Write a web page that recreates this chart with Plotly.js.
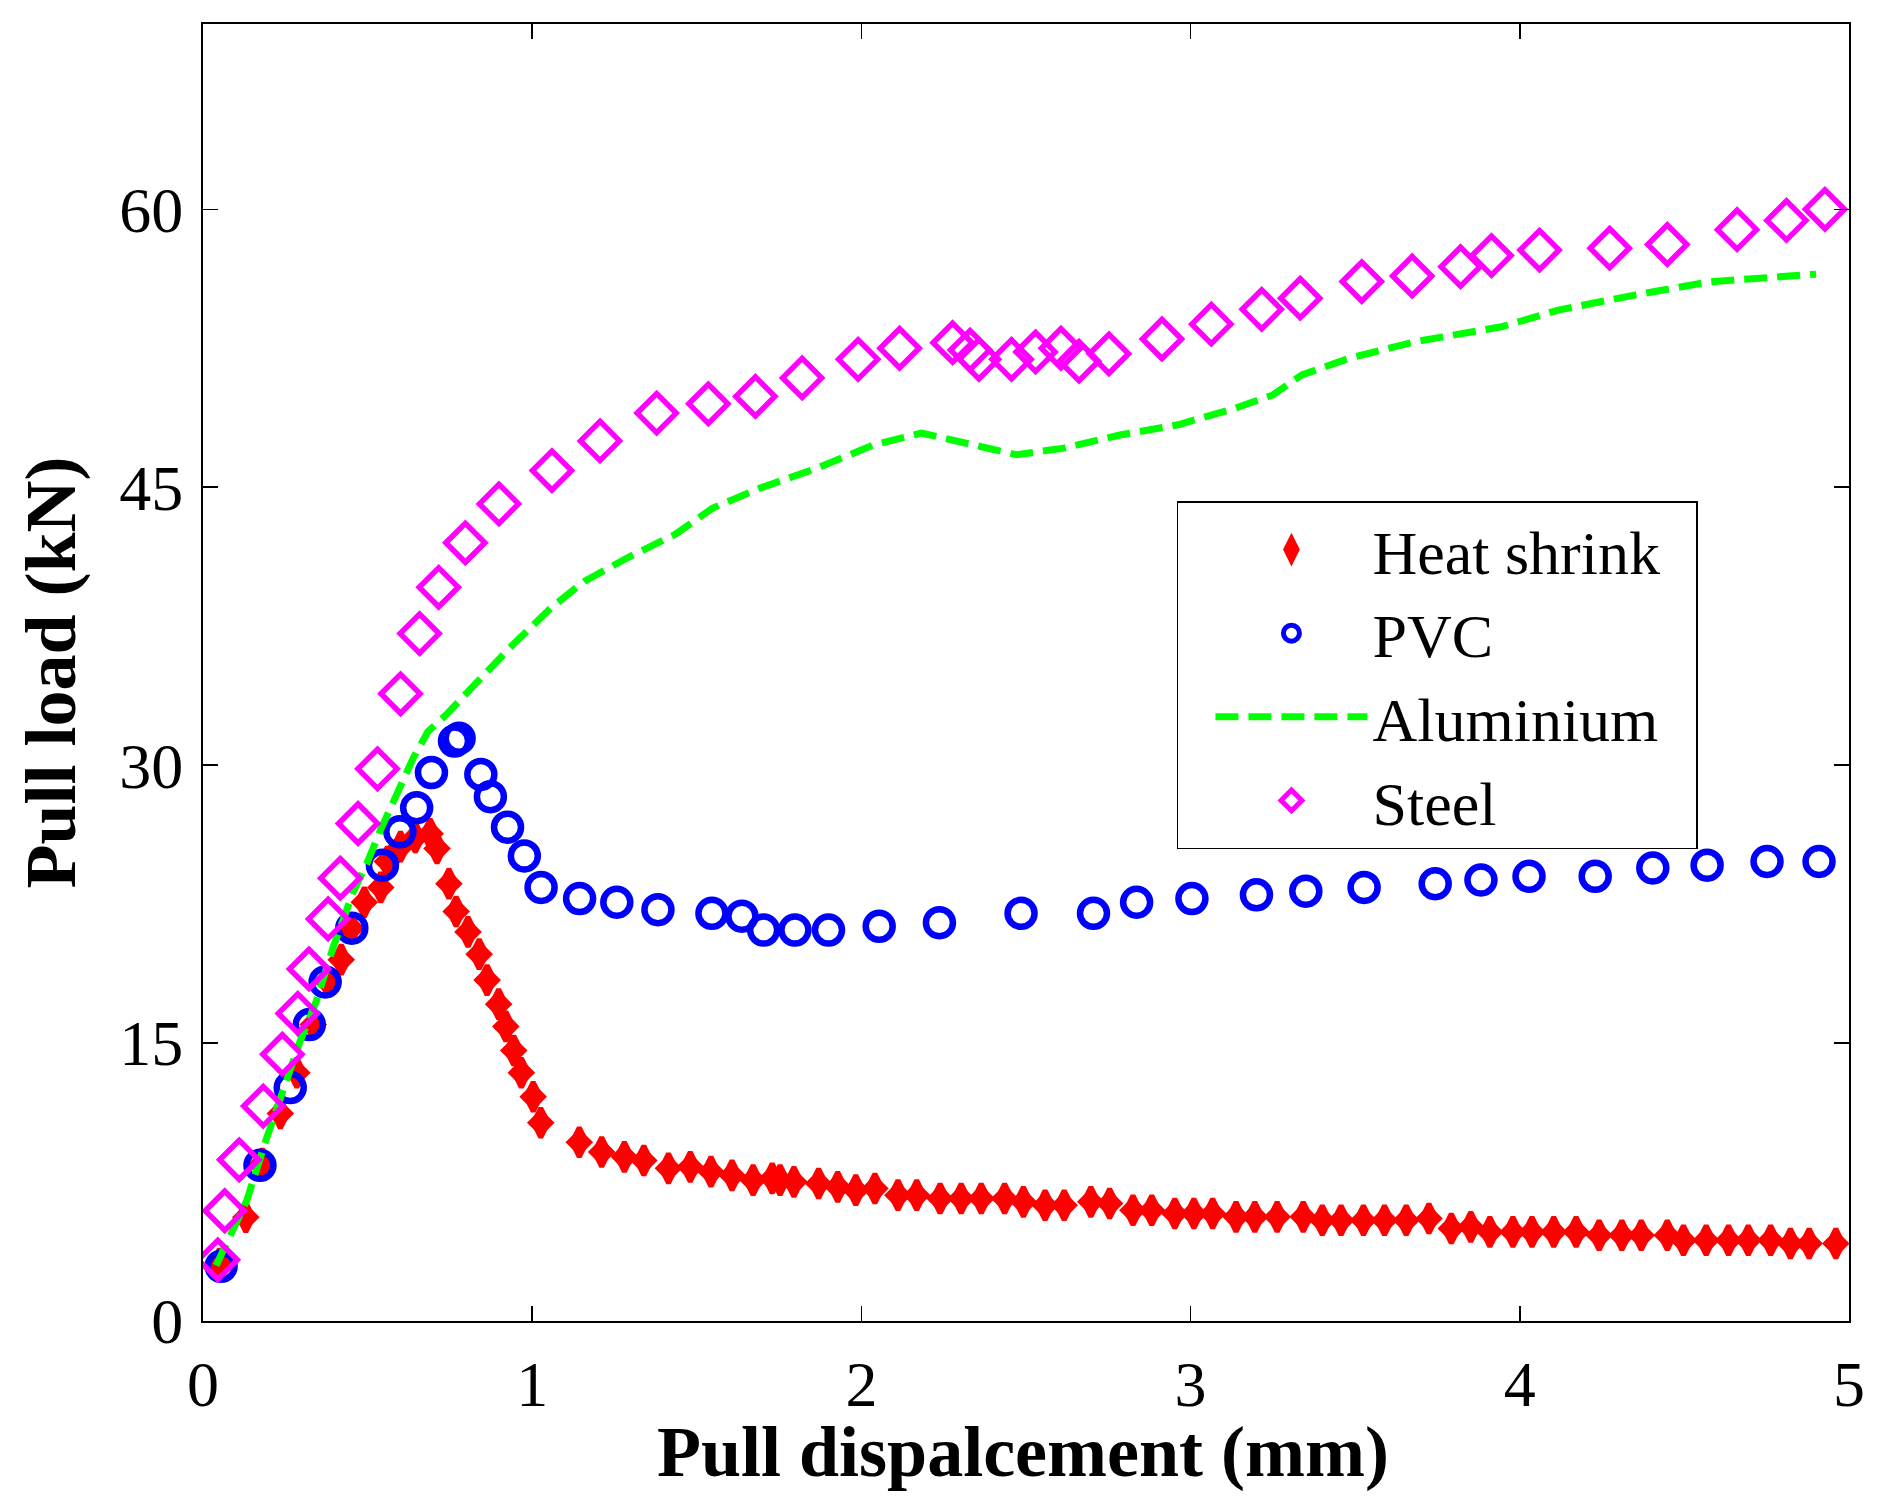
<!DOCTYPE html>
<html>
<head>
<meta charset="utf-8">
<script src="https://cdn.plot.ly/plotly-3.0.1.min.js"></script>
<style>html,body{margin:0;padding:0;background:#fff;}#chart{width:1889px;height:1505px;}</style>
</head>
<body>
<div id="chart"></div>
<script>
// Heat shrink
var heatX = [0.05,0.13,0.18,0.235,0.285,0.335,0.38,0.42,0.45,0.49,0.54,0.56,0.60,0.645,0.69,
  0.711,0.747,0.769,0.805,0.839,0.863,0.898,0.92,0.944,0.967,1.003,1.026,
  1.143,1.211,1.28,1.339,1.414,1.48,1.543,1.607,1.671,1.729,
  1.753,1.795,1.870,1.928,1.983,2.041,2.111,2.168,2.239,2.303,2.364,2.435,2.492,2.558,2.616,2.697,2.754,
  2.825,2.882,2.952,3.010,3.067,3.138,3.195,3.263,3.342,3.400,3.457,3.525,3.589,3.655,3.724,3.792,3.851,
  3.909,3.979,4.037,4.103,4.171,4.241,4.310,4.369,4.448,4.497,4.566,4.634,4.694,4.762,4.822,4.879,4.960];
var heatY = [3.1,5.6,8.5,11.2,13.4,16.0,18.3,19.5,21.2,22.6,23.4,24.8,25.6,26.1,26.3,
  25.5,23.6,22.1,21.0,19.8,18.4,17.1,15.9,14.6,13.4,12.1,10.7,
  9.65,9.12,8.86,8.66,8.24,8.32,8.06,7.86,7.6,7.7,
  7.6,7.51,7.42,7.24,7.06,7.15,6.79,6.79,6.61,6.61,6.61,6.61,6.43,6.25,6.25,6.43,6.34,
  5.98,5.98,5.8,5.8,5.8,5.62,5.62,5.62,5.62,5.44,5.44,5.44,5.44,5.44,5.53,4.99,5.08,
  4.81,4.81,4.81,4.81,4.81,4.63,4.63,4.63,4.63,4.36,4.36,4.36,4.36,4.36,4.18,4.18,4.18];

// PVC
var pvcX = [0.055,0.173,0.265,0.323,0.371,0.452,0.545,0.598,0.649,0.694,0.764,0.778,0.844,0.873,0.925,0.976,1.027,
  1.144,1.257,1.382,1.546,1.637,1.703,1.798,1.90,2.054,2.237,2.485,2.705,2.836,3.004,3.20,3.35,3.527,3.743,3.882,
  4.028,4.229,4.404,4.569,4.751,4.909];
var pvcY = [2.95,8.4,12.6,16.0,18.3,21.2,24.6,26.4,27.7,29.6,31.3,31.45,29.5,28.3,26.65,25.1,23.4,
  22.8,22.6,22.2,22.0,21.85,21.1,21.1,21.1,21.3,21.5,22.0,22.0,22.6,22.8,23.0,23.2,23.4,23.6,23.8,
  24.0,24.0,24.45,24.6,24.8,24.8];

// Aluminium
var aluX = [0.04,0.133,0.188,0.234,0.295,0.345,0.396,0.457,0.497,0.538,0.573,0.639,0.683,0.74,0.826,0.942,1.057,
  1.158,1.288,1.433,1.548,1.692,1.865,2.038,2.183,2.327,2.472,2.615,2.789,2.962,3.135,3.25,3.338,3.482,
  3.684,3.944,4.117,4.348,4.579,4.9];
var aluY = [3.0,6.5,9.6,11.9,15.1,17.3,20.2,23.2,24.66,26.45,27.9,30.4,31.8,32.74,34.36,36.51,38.49,
  39.92,41.18,42.44,43.87,44.95,46.03,47.29,47.92,47.29,46.75,47.11,47.83,48.37,49.26,49.98,51.06,51.96,
  52.86,53.66,54.56,55.37,56.09,56.5];

// Steel
var steelX = [0.045,0.066,0.11,0.183,0.241,0.288,0.322,0.38,0.417,0.471,0.53,0.60,0.658,0.716,0.797,0.899,
  1.06,1.206,1.378,1.535,1.678,1.82,1.99,2.116,2.277,2.33,2.357,2.456,2.529,2.606,2.661,2.752,2.913,3.063,
  3.216,3.333,3.52,3.673,3.82,3.914,4.06,4.273,4.448,4.66,4.81,4.927];
var steelY = [3.3,5.95,8.7,11.6,14.4,16.6,19.0,21.7,23.9,26.85,29.8,33.85,37.1,39.6,42.0,44.1,
  45.9,47.5,49.0,49.5,49.9,50.9,51.9,52.5,52.8,52.4,51.9,51.9,52.3,52.5,51.8,52.2,53.0,53.8,
  54.6,55.2,56.1,56.4,56.9,57.5,57.8,57.9,58.1,58.9,59.4,60.0];

var seriesNames = ['Heat shrink', 'PVC', 'Aluminium', 'Steel'];
var xTitle = 'Pull dispalcement (mm)';
var yTitle = 'Pull load (kN)';
var xTicks = [0,1,2,3,4,5];
var yTicks = [0,15,30,45,60];

var FONT = '"Liberation Serif","Times New Roman",Times,serif';
var PAD = '\u00a0\u00a0';

var traces = [
  {x: heatX, y: heatY, name: seriesNames[0] + PAD, type: 'scatter', mode: 'markers', legendgroup: 'hs',
   marker: {symbol: 'diamond-tall', size: 21, color: '#ff0000', line: {color: '#ff0000', width: 5}}},
  {x: heatX, y: heatY, name: seriesNames[0], type: 'scatter', mode: 'markers', legendgroup: 'hs', showlegend: false,
   marker: {symbol: 'diamond', size: 18, color: '#ff0000', line: {color: '#ff0000', width: 3}}},
  {x: pvcX, y: pvcY, name: seriesNames[1], type: 'scatter', mode: 'markers',
   marker: {symbol: 'circle-open', size: 27, color: '#0000ff', line: {color: '#0000ff', width: 6.5}}},
  {x: aluX, y: aluY, name: seriesNames[2], type: 'scatter', mode: 'lines',
   line: {color: '#00ff00', width: 7, dash: '23px,10px'}},
  {x: steelX, y: steelY, name: seriesNames[3], type: 'scatter', mode: 'markers',
   marker: {symbol: 'diamond-open', size: 30, color: '#ff00ff', line: {color: '#ff00ff', width: 5.5}}}
];

var axisCommon = {
  showline: true, linecolor: '#000', linewidth: 2, mirror: 'allticks',
  ticks: 'inside', ticklen: 15, tickwidth: 1.5, tickcolor: '#000',
  showgrid: false, zeroline: false,
  tickfont: {family: FONT, size: 64, color: '#000'}
};

var layout = {
  width: 1889, height: 1505,
  margin: {l: 203, r: 40, t: 24, b: 184},
  paper_bgcolor: '#fff', plot_bgcolor: '#fff',
  showlegend: true,
  xaxis: Object.assign({}, axisCommon, {
    range: [0, 5], tickmode: 'array', tickvals: xTicks, ticktext: xTicks.map(String),
    ticklabelstandoff: 6
  }),
  yaxis: Object.assign({}, axisCommon, {
    range: [0, 70], tickmode: 'array', tickvals: yTicks, ticktext: yTicks.map(String),
    ticklabelstandoff: 5, automargin: true,
    title: {text: '<b>' + yTitle + '</b>', font: {family: FONT, size: 72, color: '#000'}, standoff: 20}
  }),
  annotations: [{
    text: '<b>' + xTitle + '</b>', xref: 'paper', yref: 'paper', x: 0.498, y: -0.101,
    xanchor: 'center', yanchor: 'middle', showarrow: false,
    font: {family: FONT, size: 72, color: '#000'}
  }],
  legend: {
    x: 0.5917, y: 0.632, xanchor: 'left', yanchor: 'top',
    bgcolor: '#fff', bordercolor: '#000', borderwidth: 1.5,
    font: {family: FONT, size: 62, color: '#000'},
    itemwidth: 152, indentation: 32, tracegroupgap: 0
  }
};

Plotly.newPlot('chart', traces, layout, {displayModeBar: false, staticPlot: true});
</script>
</body>
</html>
